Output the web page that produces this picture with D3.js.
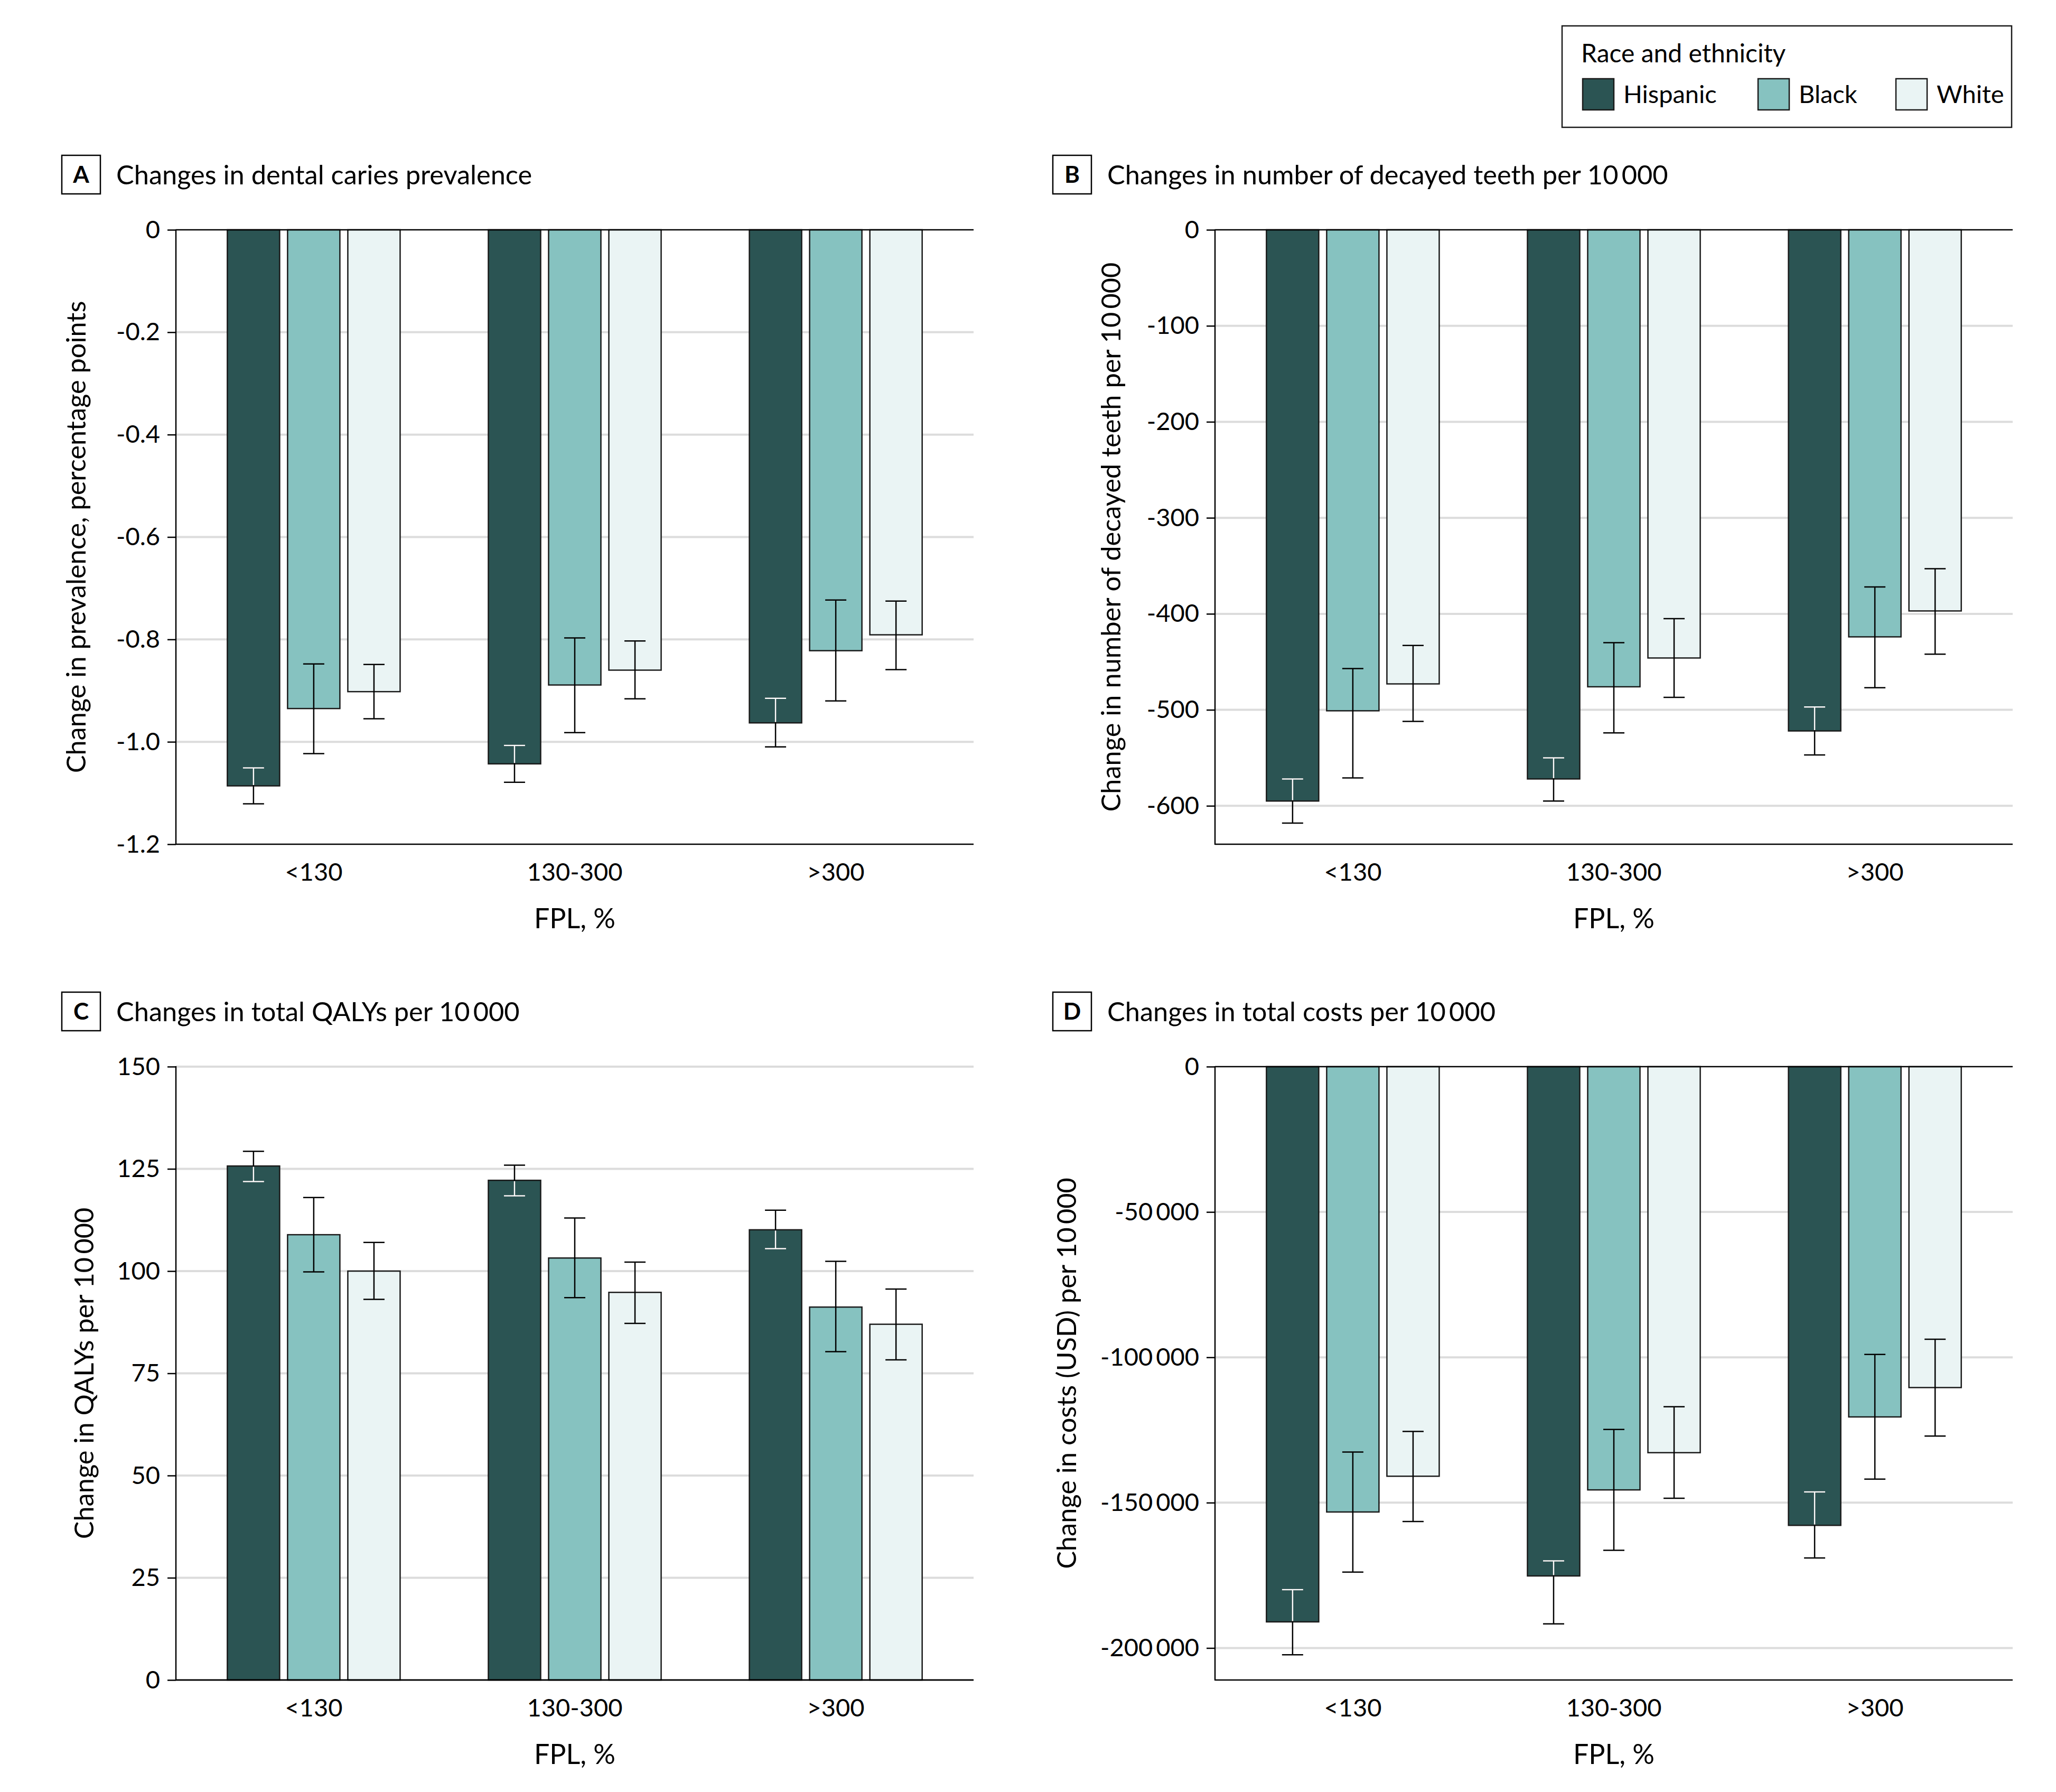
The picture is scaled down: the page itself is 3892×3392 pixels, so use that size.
<!DOCTYPE html>
<meta charset="utf-8">
<script src="https://d3js.org/d3.v7.min.js"></script>
<style>
  body { margin: 0; background: #fff; }
  text { font-family: Lato, "Liberation Sans", sans-serif; fill: #000; }
</style>
<div id="my_dataviz"></div>
<script>

// categories
var fplGroups = ["<130", "130-300", ">300"];
var races = ["Hispanic", "Black", "White"];
var raceColors = ["#2b5453", "#86c2c0", "#eaf4f4"];

// A: dental caries prevalence (rows = FPL group, cols = race)
var prevMean = [[-1.086, -0.935, -0.902], [-1.043, -0.889, -0.860], [-0.963, -0.822, -0.791]];
var prevUpper = [[-1.051, -0.848, -0.849], [-1.007, -0.797, -0.803], [-0.915, -0.723, -0.725]];
var prevLower = [[-1.121, -1.023, -0.955], [-1.079, -0.982, -0.916], [-1.010, -0.920, -0.859]];
var prevTicks = [0, -0.2, -0.4, -0.6, -0.8, -1.0, -1.2];

// B: decayed teeth per 10 000
var teethMean = [[-595, -501, -473], [-572, -476, -446], [-522, -424, -397]];
var teethUpper = [[-572, -457, -433], [-550, -430, -405], [-497, -372, -353]];
var teethLower = [[-618, -571, -512], [-595, -524, -487], [-547, -477, -442]];
var teethTicks = [0, -100, -200, -300, -400, -500, -600];

// C: QALYs per 10 000
var qalyMean = [[125.7, 108.9, 100.0], [122.2, 103.2, 94.8], [110.1, 91.2, 87.0]];
var qalyUpper = [[129.3, 118.0, 107.0], [125.9, 113.0, 102.2], [114.9, 102.4, 95.6]];
var qalyLower = [[121.9, 99.8, 93.1], [118.4, 93.5, 87.2], [105.5, 80.3, 78.3]];
var qalyTicks = [0, 25, 50, 75, 100, 125, 150];

// D: costs per 10 000
var costMean = [[-191000, -153200, -140900], [-175200, -145600, -132800], [-157800, -120500, -110400]];
var costUpper = [[-179900, -132600, -125500], [-170000, -124800, -117000], [-146300, -99000, -93800]];
var costLower = [[-202300, -173900, -156500], [-191700, -166400, -148500], [-169000, -141900, -127100]];
var costTicks = [0, -50000, -100000, -150000, -200000];

var loc = d3.formatLocale({decimal: ".", thousands: "\u2009", grouping: [3], currency: ["$", ""], minus: "-"});
var fmt1 = function(d) { return d === 0 ? "0" : loc.format(".1f")(d); };
var fmtInt = function(d) { return loc.format(",d")(d); };

var panels = [
  {letter: "A", title: "Changes in dental caries prevalence", ytitle: "Change in prevalence, percentage points",
   mean: prevMean, upper: prevUpper, lower: prevLower, ticks: prevTicks, domain: [-1.2, 0], fmt: fmt1,
   left: 333, top: 435, bottom: 1598, ytx: 162, boxX: 117},
  {letter: "B", title: "Changes in number of decayed teeth per 10\u2009000", ytitle: "Change in number of decayed teeth per 10\u2009000",
   mean: teethMean, upper: teethUpper, lower: teethLower, ticks: teethTicks, domain: [-640, 0], fmt: fmtInt,
   left: 2300, top: 435, bottom: 1598, ytx: 2121, boxX: 1993},
  {letter: "C", title: "Changes in total QALYs per 10\u2009000", ytitle: "Change in QALYs per 10\u2009000",
   mean: qalyMean, upper: qalyUpper, lower: qalyLower, ticks: qalyTicks, domain: [0, 150], fmt: fmtInt,
   left: 333, top: 2019, bottom: 3180, ytx: 177, boxX: 117},
  {letter: "D", title: "Changes in total costs per 10\u2009000", ytitle: "Change in costs (USD) per 10\u2009000",
   mean: costMean, upper: costUpper, lower: costLower, ticks: costTicks, domain: [-211000, 0], fmt: fmtInt,
   left: 2300, top: 2019, bottom: 3180, ytx: 2037, boxX: 1993}
];

var W = 3892, H = 3392, plotW = 1510;

var svg = d3.select("#my_dataviz")
  .append("svg")
    .attr("width", W)
    .attr("height", H);

svg.append("rect").attr("width", W).attr("height", H).attr("fill", "#fff");

var defs = svg.append("defs");
var clipId = 0;

panels.forEach(function(p) {
  var right = p.left + plotW;

  var x = d3.scaleBand().domain(fplGroups).range([p.left, right]).paddingInner(0.338).paddingOuter(0.197);
  var xr = d3.scaleBand().domain(races).range([0, x.bandwidth()]).paddingInner(0.1316).paddingOuter(0);
  var y = d3.scaleLinear().domain(p.domain).range([p.bottom, p.top]);

  var g = svg.append("g");

  // panel letter box + title
  var titleBase = p.top - 86;
  g.append("rect").attr("x", p.boxX).attr("y", titleBase - 55).attr("width", 73).attr("height", 73)
    .attr("fill", "none").attr("stroke", "#000").attr("stroke-width", 2.5);
  g.append("text").attr("x", p.boxX + 36.5).attr("y", titleBase - 3).attr("text-anchor", "middle")
    .style("font-weight", "bold").style("font-size", "44px").text(p.letter);
  g.append("text").attr("x", p.boxX + 103).attr("y", titleBase)
    .style("font-size", "50.5px").text(p.title);

  // gridlines (not where the black zero / axis lines are)
  g.selectAll(".grid").data(p.ticks.filter(function(t) { return t !== 0 && y(t) < p.bottom - 1; }))
    .enter().append("line")
      .attr("x1", p.left).attr("x2", right)
      .attr("y1", function(d) { return y(d); }).attr("y2", function(d) { return y(d); })
      .attr("stroke", "#dcdcdc").attr("stroke-width", 4);

  // y axis
  var yAxis = d3.axisLeft(y).tickValues(p.ticks).tickFormat(p.fmt).tickSize(16).tickPadding(14);
  var ya = g.append("g").attr("transform", "translate(" + p.left + ",0)").call(yAxis);
  ya.select(".domain").remove();
  ya.selectAll(".tick line").attr("stroke", "#000").attr("stroke-width", 2.5);
  ya.selectAll(".tick text").style("font-size", "47px").style("font-family", "Lato, sans-serif");
  g.append("line").attr("x1", p.left).attr("x2", p.left).attr("y1", p.top - 1).attr("y2", p.bottom + 1)
    .attr("stroke", "#000").attr("stroke-width", 2.5);

  // bars
  fplGroups.forEach(function(grp, gi) {
    races.forEach(function(race, ri) {
      var v = p.mean[gi][ri];
      var bx = x(grp) + xr(race), bw = xr.bandwidth();
      var y0 = y(0), y1 = y(v);
      var by = Math.min(y0, y1), bh = Math.abs(y1 - y0);
      g.append("rect").attr("x", bx).attr("y", by).attr("width", bw).attr("height", bh)
        .attr("fill", raceColors[ri]).attr("stroke", "#1a1a1a").attr("stroke-width", 2.5);

      var cx = bx + bw / 2, cap = 20;
      var ya1 = y(p.upper[gi][ri]), ya2 = y(p.lower[gi][ri]);
      var drawErr = function(sel, colour) {
        sel.append("line").attr("x1", cx).attr("x2", cx).attr("y1", ya1).attr("y2", ya2)
          .attr("stroke", colour).attr("stroke-width", 2.5);
        [ya1, ya2].forEach(function(yy) {
          sel.append("line").attr("x1", cx - cap).attr("x2", cx + cap).attr("y1", yy).attr("y2", yy)
            .attr("stroke", colour).attr("stroke-width", 2.5);
        });
      };
      drawErr(g.append("g"), "#000");
      if (ri === 0) {
        // the part of the bar lying inside the dark bar is drawn white
        var id = "clip" + (clipId++);
        defs.append("clipPath").attr("id", id).append("rect")
          .attr("x", bx + 1.5).attr("y", by + 1.5).attr("width", bw - 3).attr("height", Math.max(0, bh - 3));
        drawErr(g.append("g").attr("clip-path", "url(#" + id + ")"), "#fff");
      }
    });
  });

  // zero line and bottom axis
  g.append("line").attr("x1", p.left).attr("x2", right).attr("y1", y(0)).attr("y2", y(0))
    .attr("stroke", "#000").attr("stroke-width", 2.5);
  g.append("line").attr("x1", p.left).attr("x2", right).attr("y1", p.bottom).attr("y2", p.bottom)
    .attr("stroke", "#000").attr("stroke-width", 2.5);

  // x labels
  g.selectAll(".xl").data(fplGroups).enter().append("text")
    .attr("x", function(d) { return x(d) + x.bandwidth() / 2; })
    .attr("y", p.bottom + 69)
    .attr("text-anchor", "middle").style("font-size", "47px").text(function(d) { return d; });
  g.append("text").attr("x", (p.left + right) / 2).attr("y", p.bottom + 159)
    .attr("text-anchor", "middle").style("font-size", "52px").text("FPL, %");

  // y title
  g.append("text")
    .attr("transform", "translate(" + p.ytx + "," + ((p.top + p.bottom) / 2) + ") rotate(-90)")
    .attr("text-anchor", "middle").style("font-size", "50.5px").text(p.ytitle);
});

// legend
var lg = svg.append("g");
lg.append("rect").attr("x", 2957).attr("y", 49).attr("width", 851).attr("height", 192)
  .attr("fill", "#fff").attr("stroke", "#1a1a1a").attr("stroke-width", 2.5);
lg.append("text").attr("x", 2993).attr("y", 118).style("font-size", "48px").text("Race and ethnicity");
var legX = [2996, 3328, 3589];
races.forEach(function(r, i) {
  lg.append("rect").attr("x", legX[i]).attr("y", 149).attr("width", 59).attr("height", 59)
    .attr("fill", raceColors[i]).attr("stroke", "#1a1a1a").attr("stroke-width", 2.5);
  lg.append("text").attr("x", legX[i] + 77).attr("y", 195).style("font-size", "47px").text(r);
});

</script>
